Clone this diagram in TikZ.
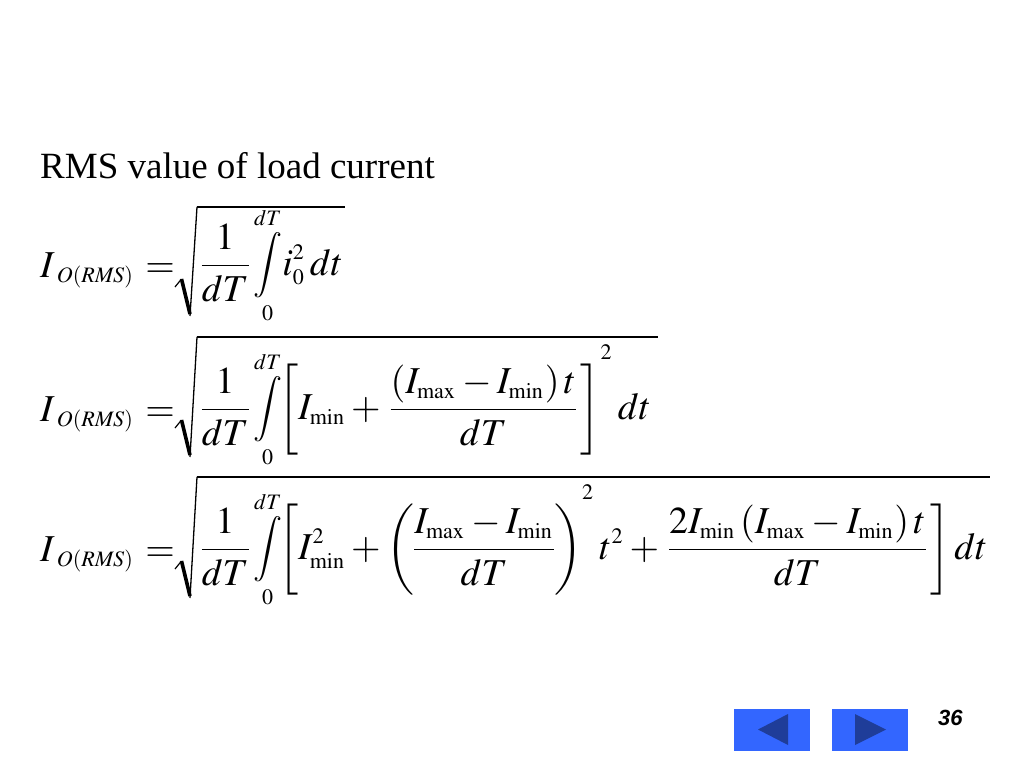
\documentclass[tikz,border=0pt]{standalone}
\usepackage{amsmath}
\usepackage{mathptmx}
\usepackage{graphicx}
\usepackage{fontspec}
\setmainfont{Liberation Serif}
\newfontfamily\pagefont{Liberation Sans}
\usetikzlibrary{positioning}
\DeclareMathSizes{10}{10}{5.8}{4.6}
\definecolor{btnblue}{HTML}{3366FF}
\definecolor{btnarrow}{HTML}{1F3D99}
\newcommand{\subrms}{\kern1.3pt O(\mathit{RMS})}
\newcommand{\mn}{\mathrm{min}}
\newcommand{\mx}{\mathrm{max}}
\newcommand{\sqtwo}{\smash{\raisebox{3.5pt}{$\scriptstyle 2$}}}
\newcommand{\slimint}{\mathop{\vcenter{\hbox{\scalebox{0.85}[0.86]{$\displaystyle\int$}}}}\limits}
\newcommand{\eqbig}[1]{\scalebox{3.8}{$\displaystyle #1$}}
% square root sign: top, bottom, right end
\newcommand{\rootsign}[3]{%
	\draw [line width=1.2] (175,#2-29) -- (181.5,#2-37);
	\draw [line width=3.6] (181.5,#2-37) -- (190,#2-2);
	\draw [line width=1.3] (190,#2) -- (197,#1);
	\draw [line width=2] (196.5,#1) -- (#3,#1);}

\begin{document}
\begin{tikzpicture}[x=1pt, y=-1pt,
	eqn/.style={anchor=base west, inner sep=0pt, font=\fontsize{10}{12}\selectfont},
	navbtn/.style={fill=btnblue, minimum width=76, minimum height=42, inner sep=0pt}]
	\useasboundingbox (0,0) rectangle (1024,768);
	
	\node (title) [anchor=base west, inner sep=0pt, font=\fontsize{37}{44}\selectfont] at (40,178) {RMS value of load current};
	
	% first line
	\node (lhsone) [eqn] at (40,277) {\eqbig{I_{\subrms}\mkern1mu =}};
	\node (radone) [eqn] at (197,275) {\eqbig{\frac{1}{dT}\!\slimint_0^{dT}\! i_0^2\,dt}};
	\rootsign{207}{316}{345}
	
	% second line
	\node (lhstwo) [eqn] at (40,421) {\eqbig{I_{\subrms}\mkern1mu =}};
	\node (radtwo) [eqn] at (197,419) {\eqbig{\frac{1}{dT}\!\slimint_0^{dT}\!\!\left[I_{\mn} + \frac{\left(I_{\mx}-I_{\mn}\right)t}{dT}\right]^{\sqtwo} dt}};
	\rootsign{337}{457}{658}
	
	% third line
	\node (lhsthree) [eqn] at (40,561) {\eqbig{I_{\subrms}\mkern1mu =}};
	\node (radthree) [eqn] at (197,559) {\eqbig{\frac{1}{dT}\!\slimint_0^{dT}\!\!\left[I_{\mn}^2 + \left(\!\frac{I_{\mx}-I_{\mn}}{dT}\!\right)^{\sqtwo} t^2 + \frac{2I_{\mn}\left(I_{\mx}-I_{\mn}\right)t}{dT}\right]dt}};
	\rootsign{477}{598}{990}
	
	% navigation buttons
	\node (prev) [navbtn] at (772,729.5) {};
	\node (next) [navbtn] at (870,729.5) {};
	\fill [btnarrow] (758,729.5) -- (788,714) -- (788,745) -- cycle;
	\fill [btnarrow] (886,729.5) -- (855,714) -- (855,745) -- cycle;
	
	\node (pagenum) [anchor=base west, inner sep=0pt, font=\pagefont\bfseries\itshape\fontsize{22}{26}\selectfont] at (938,725) {36};
\end{tikzpicture}
\end{document}
